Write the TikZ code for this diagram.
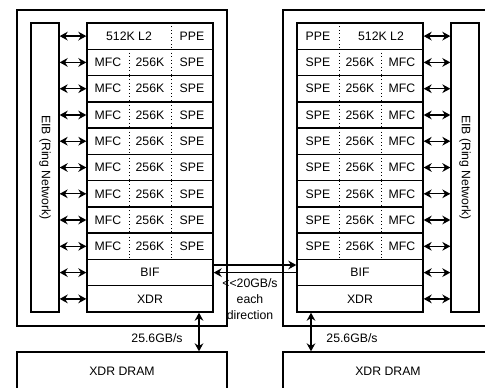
\documentclass[tikz,border=0pt]{standalone}
\usepackage{fontspec}
\setmainfont{Liberation Sans}
\usepackage{tikz}
\usetikzlibrary{arrows.meta}

\newcommand{\cells}[3]{\makebox[31.5pt]{#1}\makebox[31.5pt]{#2}\makebox[31.5pt]{#3}}

\tikzset{
  chip/.style={draw, line width=1pt, minimum width=157.5pt, minimum height=237pt, inner sep=0pt},
  eib/.style={draw, line width=1pt, minimum width=21pt, minimum height=216.75pt, inner sep=0pt},
  unit/.style={draw, line width=1pt, minimum width=94.5pt, minimum height=19.7pt, inner sep=0pt},
  cut/.style={unit, path picture={
    \draw[dotted, line width=0.6pt] ([xshift=#1]path picture bounding box.north) -- ([xshift=#1]path picture bounding box.south);}},
  spe/.style={unit, path picture={
    \draw[dotted, line width=0.6pt] ([xshift=-15.75pt]path picture bounding box.north) -- ([xshift=-15.75pt]path picture bounding box.south)
      ([xshift=15.75pt]path picture bounding box.north) -- ([xshift=15.75pt]path picture bounding box.south);}},
  dram/.style={draw, line width=1pt, minimum width=157.5pt, minimum height=28.5pt, inner sep=0pt},
  link/.style={{Stealth[length=6pt,width=6.5pt]}-{Stealth[length=6pt,width=6.5pt]}, line width=1pt},
  oneway/.style={-{Stealth[length=6pt,width=6.5pt]}, line width=1pt}
}

\begin{document}
\begin{tikzpicture}[x=0.75pt, y=-0.75pt, font=\fontsize{9.2}{12}\selectfont]
\clip (0,0) rectangle (485,387);
\fill[white] (0,0) rectangle (485,387);

% left chip
\node[chip] (cl) at (122,168) {};
\node[eib] (eibl) at (45,167.5) {};
\node[rotate=-90] (eibtl) at (eibl.center) {EIB (Ring Network)};
\node[cut=15.75pt] (l0) at (150,36.1) {\makebox[63pt]{512K L2}\makebox[31.5pt]{PPE}};
\node[spe] (l1) at (150,62.4) {\cells{MFC}{256K}{SPE}};
\node[spe] (l2) at (150,88.7) {\cells{MFC}{256K}{SPE}};
\node[spe] (l3) at (150,115.0) {\cells{MFC}{256K}{SPE}};
\node[spe] (l4) at (150,141.2) {\cells{MFC}{256K}{SPE}};
\node[spe] (l5) at (150,167.5) {\cells{MFC}{256K}{SPE}};
\node[spe] (l6) at (150,193.8) {\cells{MFC}{256K}{SPE}};
\node[spe] (l7) at (150,220.0) {\cells{MFC}{256K}{SPE}};
\node[spe] (l8) at (150,246.3) {\cells{MFC}{256K}{SPE}};
\node[unit] (bifl) at (150,272.6) {BIF};
\node[unit] (xdrl) at (150,298.9) {XDR};
\draw[link] (eibl.east |- l0) -- (l0.west);
\draw[link] (eibl.east |- l1) -- (l1.west);
\draw[link] (eibl.east |- l2) -- (l2.west);
\draw[link] (eibl.east |- l3) -- (l3.west);
\draw[link] (eibl.east |- l4) -- (l4.west);
\draw[link] (eibl.east |- l5) -- (l5.west);
\draw[link] (eibl.east |- l6) -- (l6.west);
\draw[link] (eibl.east |- l7) -- (l7.west);
\draw[link] (eibl.east |- l8) -- (l8.west);
\draw[link] (eibl.east |- bifl) -- (bifl.west);
\draw[link] (eibl.east |- xdrl) -- (xdrl.west);

% right chip
\node[chip] (cr) at (388,168) {};
\node[eib] (eibr) at (465,167.5) {};
\node[rotate=-90] (eibtr) at (eibr.center) {EIB (Ring Network)};
\node[cut=-15.75pt] (r0) at (360,36.1) {\makebox[31.5pt]{PPE}\makebox[63pt]{512K L2}};
\node[spe] (r1) at (360,62.4) {\cells{SPE}{256K}{MFC}};
\node[spe] (r2) at (360,88.7) {\cells{SPE}{256K}{MFC}};
\node[spe] (r3) at (360,115.0) {\cells{SPE}{256K}{MFC}};
\node[spe] (r4) at (360,141.2) {\cells{SPE}{256K}{MFC}};
\node[spe] (r5) at (360,167.5) {\cells{SPE}{256K}{MFC}};
\node[spe] (r6) at (360,193.8) {\cells{SPE}{256K}{MFC}};
\node[spe] (r7) at (360,220.0) {\cells{SPE}{256K}{MFC}};
\node[spe] (r8) at (360,246.3) {\cells{SPE}{256K}{MFC}};
\node[unit] (bifr) at (360,272.6) {BIF};
\node[unit] (xdrr) at (360,298.9) {XDR};
\draw[link] (r0.east) -- (eibr.west |- r0);
\draw[link] (r1.east) -- (eibr.west |- r1);
\draw[link] (r2.east) -- (eibr.west |- r2);
\draw[link] (r3.east) -- (eibr.west |- r3);
\draw[link] (r4.east) -- (eibr.west |- r4);
\draw[link] (r5.east) -- (eibr.west |- r5);
\draw[link] (r6.east) -- (eibr.west |- r6);
\draw[link] (r7.east) -- (eibr.west |- r7);
\draw[link] (r8.east) -- (eibr.west |- r8);
\draw[link] (bifr.east) -- (eibr.west |- bifr);
\draw[link] (xdrr.east) -- (eibr.west |- xdrr);

% BIF link between the chips
\draw[oneway] ([yshift=5.7pt]bifl.east) -- ([yshift=5.7pt]bifr.west);
\draw[oneway] (bifr.west) -- (bifl.east);
\node[align=center] (bw) at (250,299) {{<}{<}20GB/s\\each\\direction};

% memory
\node[dram] (draml) at (122,371) {XDR DRAM};
\node[dram] (dramr) at (388,371) {XDR DRAM};
\draw[link] ([xshift=36.75pt]xdrl.south) -- ([xshift=36.75pt]xdrl.south |- draml.north);
\draw[link] ([xshift=-36.75pt]xdrr.south) -- ([xshift=-36.75pt]xdrr.south |- dramr.north);
\node (bwl) at (157,338) {25.6GB/s};
\node (bwr) at (352,338) {25.6GB/s};
\end{tikzpicture}
\end{document}
